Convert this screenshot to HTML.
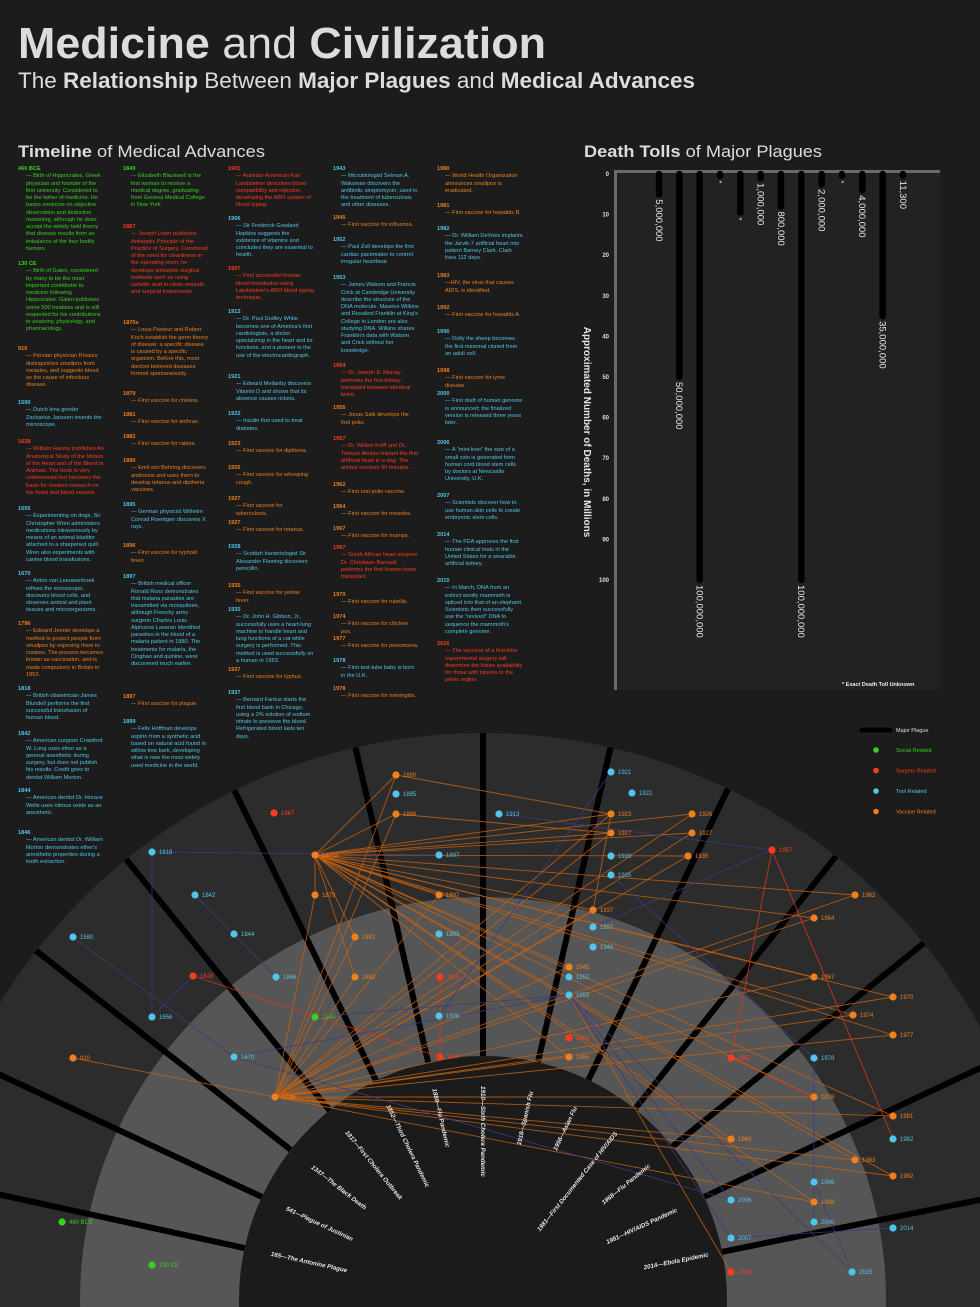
<!DOCTYPE html>
<html><head><meta charset="utf-8"><title>Medicine and Civilization</title>
<style>
html,body{margin:0;padding:0;background:#1c1c1c;width:980px;height:1307px;overflow:hidden;}
#page{position:relative;width:980px;height:1307px;overflow:hidden;background:#1c1c1c;font-family:"Liberation Sans",sans-serif;}
svg{position:absolute;left:0;top:0;}
.entry{position:absolute;width:86px;font-size:5.6px;line-height:7.25px;}
.entry .yr{display:block;font-weight:bold;}
.entry .tx{display:block;padding-left:8px;}
.g{color:#35d21e}.r{color:#ff3b1c}.b{color:#4fc6ea}.o{color:#f07f1e}
</style></head>
<body>
<div id="page">
<svg id="bg" width="980" height="1307">
  <text x="18" y="58" font-size="44" fill="#dcdcdc" textLength="528" lengthAdjust="spacingAndGlyphs"><tspan font-weight="bold">Medicine</tspan> and <tspan font-weight="bold">Civilization</tspan></text>
  <text x="18" y="88" font-size="22" fill="#dcdcdc" textLength="677" lengthAdjust="spacingAndGlyphs">The <tspan font-weight="bold">Relationship</tspan> Between <tspan font-weight="bold">Major Plagues</tspan> and <tspan font-weight="bold">Medical Advances</tspan></text>
  <text x="18" y="157" font-size="17" fill="#dcdcdc" textLength="247" lengthAdjust="spacingAndGlyphs"><tspan font-weight="bold">Timeline</tspan> of Medical Advances</text>
  <text x="584" y="157" font-size="17" fill="#dcdcdc" textLength="238" lengthAdjust="spacingAndGlyphs"><tspan font-weight="bold">Death Tolls</tspan> of Major Plagues</text>
</svg>
<div id="timeline"></div>
<svg id="bars" width="980" height="1307"></svg>
<svg id="radial" width="980" height="1307"></svg>
</div>
<script>
// ---------- Timeline ----------
var colX=[18,123,228,333,437];
var entries=[
[0,170,'g','460 BCE','— Birth of Hippocrates, Greek physician and founder of the first university. Considered to be the father of medicine. He bases medicine on objective observation and deductive reasoning, although he does accept the widely held theory that disease results from an imbalance of the four bodily humors.'],
[0,265,'g','130 CE','— Birth of Galen, considered by many to be the most important contributor to medicine following Hippocrates. Galen publishes some 500 treatises and is still respected for his contributions to anatomy, physiology, and pharmacology.'],
[0,350,'o','910','— Persian physician Rhazes distinguishes smallpox from measles, and suggests blood as the cause of infectious disease.'],
[0,404,'b','1590','— Dutch lens grinder Zacharius Janssen invents the microscope.'],
[0,443,'r','1628','— William Harvey publishes An Anatomical Study of the Motion of the Heart and of the Blood in Animals. The book is very controversial but becomes the basis for modern research on the heart and blood vessels.'],
[0,510,'b','1656','— Experimenting on dogs, Sir Christopher Wren administers medications intravenously by means of an animal bladder attached to a sharpened quill. Wren also experiments with canine blood transfusions.'],
[0,575,'b','1670','— Anton van Leeuwenhoek refines the microscope, discovers blood cells, and observes animal and plant tissues and microorganisms.'],
[0,625,'o','1796','— Edward Jenner develops a method to protect people from smallpox by exposing them to cowpox. The process becomes known as vaccination, and is made compulsory in Britain in 1853.'],
[0,690,'b','1818','— British obstetrician James Blundell performs the first successful transfusion of human blood.'],
[0,735,'b','1842','— American surgeon Crawford W. Long uses ether as a general anesthetic during surgery, but does not publish his results. Credit goes to dentist William Morton.'],
[0,792,'b','1844','— American dentist Dr. Horace Wells uses nitrous oxide as an anesthetic.'],
[0,834,'b','1846','— American dentist Dr. William Morton demonstrates ether\'s anesthetic properties during a tooth extraction.'],
[1,170,'g','1849','— Elizabeth Blackwell is the first woman to receive a medical degree, graduating from Geneva Medical College in New York.'],
[1,228,'r','1867','— Joseph Lister publishes Antiseptic Principle of the Practice of Surgery. Convinced of the need for cleanliness in the operating room, he develops antiseptic surgical methods such as using carbolic acid to clean wounds and surgical instruments.'],
[1,324,'o','1870s','— Louis Pasteur and Robert Koch establish the germ theory of disease: a specific disease is caused by a specific organism. Before this, most doctors believed diseases formed spontaneously.'],
[1,395,'o','1879','— First vaccine for cholera.'],
[1,416,'o','1881','— First vaccine for anthrax.'],
[1,438,'o','1882','— First vaccine for rabies.'],
[1,462,'o','1890','— Emil von Behring discovers antitoxins and uses them to develop tetanus and diptheria vaccines.'],
[1,506,'b','1895','— German physicist Wilhelm Conrad Roentgen discovers X rays.'],
[1,547,'o','1896','— First vaccine for typhoid fever.'],
[1,578,'b','1897','— British medical officer Ronald Ross demonstrates that malaria parasites are transmitted via mosquitoes, although Frenchy army surgeon Charles Louis Alphonse Laveran identified parasites in the blood of a malaria patient in 1880. The treatments for malaria, the Cinghao and quinine, were discovered much earlier.'],
[1,698,'o','1897','— First vaccine for plague.'],
[1,723,'b','1899','— Felix Hoffman develops aspirin from a synthetic acid based on natural acid found in willow tree bark, developing what is now the most widely used medicine in the world.'],
[2,170,'r','1901','— Austrian-American Karl Landsteiner describes blood compatibility and rejection, developing the ABO system of blood typing.'],
[2,220,'b','1906','— Sir Frederick Gowland Hopkins suggests the existence of vitamins and concludes they are essential to health.'],
[2,270,'r','1907','— First successful human blood transfusion using Landsteiner\'s ABO blood typing technique.'],
[2,313,'b','1913','— Dr. Paul Dudley White becomes one of America\'s first cardiologists, a doctor specializing in the heart and its functions, and a pioneer in the use of the electrocardiograph.'],
[2,378,'b','1921','— Edward Mellanby discovers Vitamin D and shows that its absence causes rickets.'],
[2,415,'b','1922','— Insulin first used to treat diabetes.'],
[2,445,'o','1923','— First vaccine for diptheria.'],
[2,469,'o','1926','— First vaccine for whooping cough.'],
[2,500,'o','1927','— First vaccine for tuberculosis.'],
[2,524,'o','1927','— First vaccine for tetanus.'],
[2,548,'b','1928','— Scottish bacteriologist Sir Alexander Fleming discovers penicillin.'],
[2,587,'o','1935','— First vaccine for yellow fever.'],
[2,611,'b','1935','— Dr. John H. Gibbon, Jr., successfully uses a heart-lung machine to handle heart and lung functions of a cat while surgery is performed. This method is used successfully on a human in 1953.'],
[2,671,'o','1937','— First vaccine for typhus.'],
[2,694,'b','1937','— Bernard Fantus starts the first blood bank in Chicago, using a 2% solution of sodium nitrate to preserve the blood. Refrigerated blood lasts ten days.'],
[3,170,'b','1943','— Microbiologist Selman A. Waksman discovers the antibiotic streptomycin, used in the treatment of tuberculosis and other diseases.'],
[3,219,'o','1945','— First vaccine for influenza.'],
[3,241,'b','1952','— Paul Zoll develops the first cardiac pacemaker to control irregular heartbeat.'],
[3,279,'b','1953','— James Watson and Francis Crick at Cambridge University describe the structure of the DNA molecule. Maurice Wilkins and Rosalind Franklin at King\'s College in London are also studying DNA. Wilkins shares Franklin\'s data with Watson and Crick without her knowledge.'],
[3,367,'r','1954','— Dr. Joseph E. Murray performs the first kidney transplant between identical twins.'],
[3,409,'o','1955','— Jonas Salk develops the first polio.'],
[3,440,'r','1957','— Dr. Willem Kolff and Dr. Tetsuzo Akutzu implant the first artificial heart in a dog. The animal survives 90 minutes.'],
[3,486,'o','1962','— First oral polio vaccine.'],
[3,508,'o','1964','— First vaccine for measles.'],
[3,530,'o','1967','— First vaccine for mumps.'],
[3,549,'r','1967','— South African heart surgeon Dr. Christiaan Barnard performs the first human heart transplant.'],
[3,596,'o','1970','— First vaccine for rubella.'],
[3,618,'o','1974','— First vaccine for chicken pox.'],
[3,640,'o','1977','— First vaccine for pneumonia.'],
[3,662,'b','1978','— First test-tube baby is born in the U.K.'],
[3,690,'o','1978','— First vaccine for meningitis.'],
[4,170,'o','1980','— World Health Organization announces smallpox is eradicated.'],
[4,207,'o','1981','— First vaccine for hepatitis B.'],
[4,230,'b','1982','— Dr. William DeVries implants the Jarvik-7 artificial heart into patient Barney Clark. Clark lives 112 days.'],
[4,277,'o','1983','—HIV, the virus that causes AIDS, is identified.'],
[4,309,'o','1992','— First vaccine for hepatitis A.'],
[4,333,'b','1996','— Dolly the sheep becomes the first mammal cloned from an adult cell.'],
[4,372,'o','1998','— First vaccine for lyme disease.'],
[4,395,'b','2000','— First draft of human genome is announced; the finalized version is released three years later.'],
[4,444,'b','2006','— A "mini-liver" the size of a small coin is generated from human cord blood stem cells by doctors at Newcastle University, U.K.'],
[4,497,'b','2007','— Scientists discover how to use human skin cells to create embryonic stem cells.'],
[4,536,'b','2014','— The FDA approves the first human clinical trials in the United States for a wearable artificial kidney.'],
[4,582,'b','2015','— In March, DNA from an extinct woolly mammoth is spliced into that of an elephant. Scientists then successfully use the "revived" DNA to sequence the mammoth\'s complete genome.'],
[4,645,'r','2016','— The success of a first-time experimental surgery will determine the future availability for those with injuries to the pelvic region.']
];
var tl=document.getElementById('timeline');
entries.forEach(function(e){
  var d=document.createElement('div');
  d.className='entry '+e[2];
  d.style.left=colX[e[0]]+'px';d.style.top=(e[1]-4)+'px';
  
  
  d.innerHTML='<span class="yr">'+e[3]+'</span><span class="tx">'+e[4]+'</span>';
  tl.appendChild(d);
});

// ---------- Bar chart ----------
var NS='http://www.w3.org/2000/svg';
function mk(p,tag,attrs){var el=document.createElementNS(NS,tag);for(var k in attrs)el.setAttribute(k,attrs[k]);p.appendChild(el);return el;}
var barLabels=['5,000,000','50,000,000','100,000,000','*','*','1,000,000','800,000','100,000,000','2,000,000','*','4,000,000','35,000,000','11,300'];
var barValues=[5,50,100,0.4,9.5,1,8,100,2.5,0.4,4,35,0.4];
var yTicks=[0,10,20,30,40,50,60,70,80,90,100];
var bs=document.getElementById('bars');
var plotL=614,plotR=940,plotT=172,plotB=690,y0=174,yPer=4.06,bx0=659,bstep=20.33;
function ys(v){return y0+v*yPer;}
function xs(i){return bx0+i*bstep;}
mk(bs,'rect',{x:plotL,y:plotT,width:plotR-plotL,height:plotB-plotT,fill:'#222',});
mk(bs,'rect',{x:plotL,y:plotT-2,width:plotR-plotL,height:3,fill:'#6a6a6a',});
mk(bs,'rect',{x:plotL,y:plotT-2,width:3,height:plotB-plotT+2,fill:'#6a6a6a',});
yTicks.forEach(function(t){
  var el=mk(bs,'text',{x:609,y:ys(t)+2,'font-size':6,'font-weight':'bold',fill:'#ddd','text-anchor':'end'});
  
  
  el.textContent=t;
});
barValues.forEach(function(v,i){
  var x=xs(i),yb=ys(v);
  var ln=mk(bs,'line',{x1:x,y1:ys(0),x2:x,y2:Math.max(yb,ys(0)+0.5),stroke:'#000','stroke-width':6.5,'stroke-linecap':'round'});
  
  
  var lab=barLabels[i];
  var ty=yb+5;
  var t=mk(bs,'text',{x:0,y:0,'font-size':lab==='*'?7:9.5,fill:'#e8e8e8',transform:'translate('+(x-3.2)+','+ty+') rotate(90)'});
  
  
  t.textContent=lab;
});
var at=mk(bs,'text',{x:0,y:0,'font-size':10,'font-weight':'bold',fill:'#e4e4e4','text-anchor':'middle',transform:'translate(584,432) rotate(90)'});


at.textContent='Approximated Number of Deaths, in Millions';
var fn=mk(bs,'text',{x:842,y:686,'font-size':5.5,'font-weight':'bold',fill:'#eee'});


fn.textContent='*  Exact Death Toll Unknown';

// ---------- Radial network ----------
var rs=document.getElementById('radial');
var cx=483,cy=1300;
var c1=mk(rs,'circle',{cx:cx,cy:cy,r:567,fill:'#2c2c2c'});
var c2=mk(rs,'circle',{cx:cx,cy:cy,r:403,fill:'#565656'});
var c3=mk(rs,'circle',{cx:cx,cy:cy,r:244,fill:'#1b1b1b'});
var spokeAngles=[-77.7,-65,-52,-39,-26,-13,0,13,25.6,38.5,51,65,78.6];
var plagues=['165—The Antonine Plague','541—Plague of Justinian','1347—The Black Death','1817—First Cholera Outbreak','1852—Third Cholera Pandemic','1889—Flu Pandemic','1910—Sixth Cholera Pandemic','1918—Spanish Flu','1956—Asian Flu','1981—First Documented Case of HIV/AIDS','1968—Flu Pandemic','1981—HIV/AIDS Pandemic','2014—Ebola Epidemic'];
spokeAngles.forEach(function(a,i){
  var rad=a*Math.PI/180,s=Math.sin(rad),c=Math.cos(rad);
  var l=mk(rs,'line',{x1:cx+244*s,y1:cy-244*c,x2:cx+567*s,y2:cy-567*c,stroke:'#000','stroke-width':6});
  
  
});
// legend
var lg=mk(rs,'g',{});
var lb=mk(lg,'line',{x1:862,y1:730,x2:890,y2:730,stroke:'#000','stroke-width':5,'stroke-linecap':'round'});
var lt=mk(lg,'text',{x:896,y:732,'font-size':5.5,fill:'#ddd'});lt.textContent='Major Plague';
var legItems=[['Social Related','#35d21e'],['Surgery Related','#ff3b1c'],['Tool Related','#4fc6ea'],['Vaccine Related','#f07f1e']];
legItems.forEach(function(it,i){
  var yy=750+i*20.5;
  var d=mk(lg,'circle',{cx:876,cy:yy,r:2.8,fill:it[1]});
  var t=mk(lg,'text',{x:896,y:yy+2,'font-size':5.5,fill:it[1]});t.textContent=it[0];
});
var colors={g:'#35d21e',r:'#ff3b1c',b:'#4fc6ea',o:'#f07f1e'};
var nodes={
v1890:['1890','o',396,775],v1896:['1896','o',396,814],v1870:['1870s','o',315,855],v1879:['1879','o',315,895],v1897:['1897','o',439,895],
v1881:['1881','o',355,937],v1882:['1882','o',355,977],v1923:['1923','o',611,814],v1927a:['1927','o',611,833],v1926:['1926','o',692,814],
v1927b:['1927','o',692,833],v1935:['1935','o',688,856],v1937:['1937','o',593,910],v1945:['1945','o',569,967],v1955:['1955','o',569,1057],
v1962:['1962','o',855,895],v1964:['1964','o',814,918],v1967:['1967','o',814,977],v1970:['1970','o',893,997],v1974:['1974','o',853,1015],
v1977:['1977','o',893,1035],v1978:['1978','o',814,1097],v1981:['1981','o',893,1116],v1983:['1983','o',855,1160],v1992:['1992','o',893,1176],
v1998:['1998','o',814,1202],v1980:['1980','o',731,1139],v910:['910','o',73,1058],v1796:['1796','o',275,1097],
s1867:['1867','r',274,813],s1628:['1628','r',193,976],s1901:['1901','r',440,977],s1907:['1907','r',440,1057],s1954:['1954','r',569,1038],
s1957:['1957','r',772,850],s1967:['1967','r',731,1058],s2016:['2016','r',731,1272],
t1818:['1818','b',152,852],t1842:['1842','b',195,895],t1844:['1844','b',234,934],t1590:['1590','b',73,937],t1846:['1846','b',276,977],
t1656:['1656','b',152,1017],t1670:['1670','b',234,1057],t1895:['1895','b',396,794],t1897:['1897','b',439,855],t1899:['1899','b',439,934],
t1906:['1906','b',439,1016],t1913:['1913','b',499,814],t1921:['1921','b',611,772],t1922:['1922','b',632,793],t1928:['1928','b',611,856],
t1935:['1935','b',611,875],t1937:['1937','b',593,927],t1943:['1943','b',593,947],t1952:['1952','b',569,977],t1953:['1953','b',569,995],
t1978:['1978','b',814,1058],t1982:['1982','b',893,1139],t1996:['1996','b',814,1182],t2006:['2006','b',731,1200],t2000:['2000','b',814,1222],
t2007:['2007','b',731,1238],t2014:['2014','b',893,1228],t2015:['2015','b',852,1272],
g1849:['1849','g',315,1017],g460:['460 BCE','g',62,1222],g130:['130 CE','g',152,1265]
};
var vacc=['v1879','v1881','v1882','v1890','v1896','v1897','v1923','v1926','v1927a','v1927b','v1935','v1937','v1945','v1955','v1962','v1964','v1967','v1970','v1974','v1977','v1978','v1981','v1983','v1992','v1998','v1980'];
var edges=[];
vacc.forEach(function(k){edges.push(['v1870',k,'o']);edges.push(['v1796',k,'o']);});
edges.push(['v910','v1796','o'],['v1890','v1923','o'],['v1896','v1927a','o'],['v1937','v1923','o'],['t1953','s2016','o']);
edges.push(['s1628','s1907','r'],['s1901','s1907','r'],['s1957','s1967','r'],['s1957','t1982','r'],['s1967','v1978','r']);
edges.push(['t1818','t1656','b'],['t1818','t1897','b'],['t1590','t1670','b'],['t1842','t1846','b'],['s1628','t1656','b'],['t1670','t2006','b'],['t1670','t1953','b'],
['g1849','t1953','b'],['t1913','s1957','b'],['t1921','t1906','b'],['t1953','t2006','b'],['t1953','t2007','b'],['t1953','t2015','b'],['t1935','t1978','b'],
['t1978','t2000','b'],['t2007','t2014','b'],['t1996','t2015','b'],['t1937','s1957','b']);
var ecol={o:'#c4600f',r:'#e0361a',b:'#3b3b86'};
edges.forEach(function(e,i){
  var a=nodes[e[0]],b=nodes[e[1]];if(!a||!b)return;
  var l=mk(rs,'line',{x1:a[2],y1:a[3],x2:b[2],y2:b[3],stroke:ecol[e[2]],'stroke-width':0.9,'stroke-opacity':0.85});
  
  
});
Object.keys(nodes).forEach(function(k){
  var n=nodes[k];
  var c=mk(rs,'circle',{cx:n[2],cy:n[3],r:3.6,fill:colors[n[1]]});
  
  
  var t=mk(rs,'text',{x:n[2]+7,y:n[3]+2,'font-size':6,fill:colors[n[1]]});
  
  
  t.textContent=n[0];
});
spokeAngles.forEach(function(a,i){
  var rad=a*Math.PI/180,s=Math.sin(rad),c=Math.cos(rad);
  var r=(a<0)?217:(i===12?230:214);
  var px=cx+r*s,py=cy-r*c,ang,anchor;
  if(a<=0){ang=Math.atan2(c,-s)*180/Math.PI;anchor='start';}
  else{ang=Math.atan2(-c,s)*180/Math.PI;anchor='end';}
  var t=mk(rs,'text',{x:0,y:0,'font-size':6.2,'font-weight':'bold','font-style':'italic',fill:'#e6e6e6','text-anchor':anchor,
    transform:'translate('+px+','+py+') rotate('+ang+') translate(0,2)'});
  
  
  t.textContent=plagues[i];
});
</script>
</body></html>
